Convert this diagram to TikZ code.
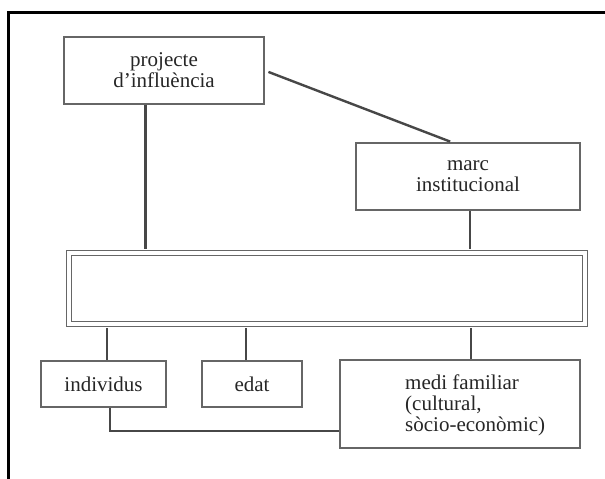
\documentclass[tikz,border=0pt]{standalone}
\usepackage{fontspec}
\setmainfont{Liberation Serif}

\begin{document}
\begin{tikzpicture}[x=1pt,y=-1pt,
  box node/.style={draw=black!60,line width=1.4pt,inner sep=0pt,align=center,
    text=black!85,font=\fontsize{21}{21}\selectfont},
  text node/.style={inner sep=0pt,align=left,text=black!85,font=\fontsize{21}{21}\selectfont},
  link/.style={draw=black!72,line width=2.4pt}]

  \useasboundingbox (0,0) rectangle (605,479);

  % frame (open at right and bottom)
  \draw[line width=3pt] (8,479) -- (8,12) -- (605,12);

  \node[box node,minimum width=200pt,minimum height=67pt] (proj) at (164,70.5) {projecte\\d’influència};
  \node[box node,minimum width=224pt,minimum height=67pt] (marc) at (468,176.5) {marc\\institucional};
  \node[box node,double,double distance=4pt,minimum width=516pt,minimum height=71pt] (core) at (327,288.5) {};
  \node[box node,minimum width=125pt,minimum height=46pt] (indiv) at (103.5,384) {individus};
  \node[box node,minimum width=100pt,minimum height=46pt] (edat) at (252,384) {edat};
  \node[box node,minimum width=240pt,minimum height=88pt] (medi) at (460,404) {};
  \node[text node,anchor=west] (meditext) at ([xshift=-55pt,yshift=-1pt]medi.center) {medi familiar\\(cultural,\\sòcio-econòmic)};

  % connectors
  \draw[link,shorten <=4pt,shorten >=2pt] (proj.east) -- ([xshift=-16pt]marc.north);
  \draw[link,shorten >=3.4pt] ([xshift=-18.5pt]proj.south) -- ([xshift=-18.5pt]proj.south |- core.north);
  \draw[link,shorten >=3.4pt] ([xshift=2pt]marc.south) -- ([xshift=2pt]marc.south |- core.north);
  \draw[link,shorten <=3.4pt] ([xshift=3.5pt]indiv.north |- core.south) -- ([xshift=3.5pt]indiv.north);
  \draw[link,shorten <=3.4pt] ([xshift=-6pt]edat.north |- core.south) -- ([xshift=-6pt]edat.north);
  \draw[link,shorten <=3.4pt] ([xshift=11pt]medi.north |- core.south) -- ([xshift=11pt]medi.north);
  \draw[link] ([xshift=6.5pt]indiv.south) |- ([yshift=-27pt]medi.west);
\end{tikzpicture}
\end{document}
